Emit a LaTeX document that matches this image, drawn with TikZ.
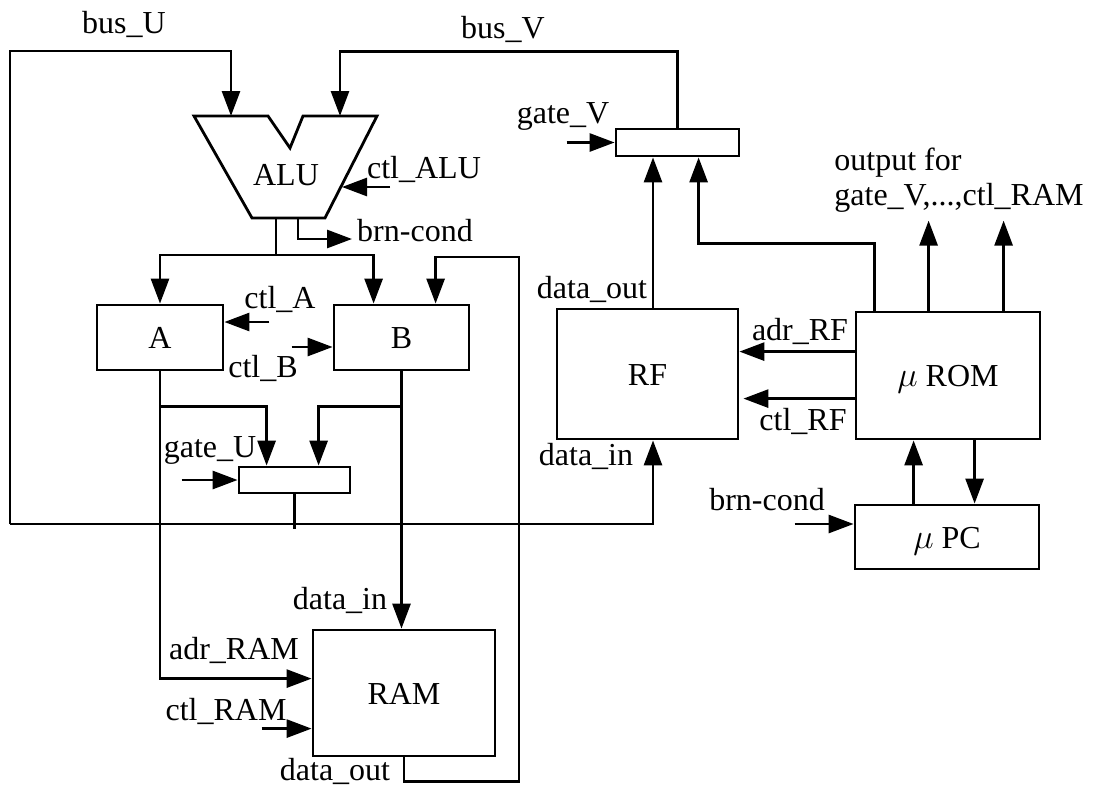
\documentclass[tikz,border=0pt]{standalone}
\usepackage{fontspec}
\setmainfont{Liberation Serif}
\usetikzlibrary{arrows.meta}
\usetikzlibrary{calc}
\usetikzlibrary{positioning}

\begin{document}
\begin{tikzpicture}[x=0.5pt,y=-0.5pt,every node/.style={font=\fontsize{16}{17.5}\selectfont}]
  \tikzset{>={Triangle[length=12.5pt,width=9pt]}} % filled triangle heads
  \tikzstyle{wire}=[line width=1.4pt]
  \tikzstyle{block}=[draw,line width=1.4pt,inner sep=0pt,text height=11pt,text depth=0pt]
  \tikzstyle{lbl}=[anchor=base,inner sep=0pt]

  \useasboundingbox (0,0) rectangle (1097,787);

  % Blocks
  \node[block,minimum width=63pt,minimum height=32.5pt] (A) at (160,337.5) {A};
  \node[block,minimum width=67.5pt,minimum height=32.5pt] (B) at (401.5,337.5) {B};
  \node[block,minimum width=55.5pt,minimum height=13pt] (gateU) at (294.5,480) {};
  \node[block,minimum width=61.5pt,minimum height=13.5pt] (gateV) at (677.5,142.5) {};
  \node[block,minimum width=90.5pt,minimum height=65pt] (RF) at (647.5,374) {RF};
  \node[block,minimum width=92pt,minimum height=63.5pt] (ROM) at (948,375.5) {$\mu$ ROM};
  \node[block,minimum width=92pt,minimum height=32pt] (PC) at (947,537) {$\mu$ PC};
  \node[block,minimum width=91pt,minimum height=63pt] (RAM) at (404,693) {RAM};

  % ALU
  \draw[wire] (194,116) -- (268,116) -- (290,148) -- (303,116) -- (377,116)
    -- (325,218) -- (252,218) -- cycle;
  \node[lbl] (ALU) at (286,185) {ALU};
  \coordinate (aluU) at (231,116);
  \coordinate (aluV) at (340,116);
  \coordinate (aluOut) at (276,218);
  \coordinate (aluBrn) at (298,218);
  \coordinate (aluCtl) at (342,187);

  % Buses
  \coordinate (busUtop) at (10,51);
  \coordinate (busUbot) at (10,524);
  \draw[wire,->] (busUbot) -- (busUtop) -| (aluU);
  \draw[wire,->] (busUbot) -| ($(RF.south)+(5.5,0)$);
  \draw[wire] (gateU.south) -- ++(0,35);
  \draw[wire,->] (gateV.north) -- ++(0,-76) -| (aluV);

  % ALU outputs
  \coordinate (split) at (276,255);
  \draw[wire] (aluOut) -- (split);
  \draw[wire,->] (split) -| (A.north);
  \draw[wire,->] (split) -| ($(B.north west)+(41,0)$);
  \draw[wire,->] (aluBrn) -- ++(0,21) -- ++(54,0);

  % RAM loop back to B
  \draw[wire,->] (RAM.south) -- ++(0,24) -| (519,257) -| ($(B.north west)+(103,0)$);

  % A and B outputs
  \draw[wire,->] (A.south) |- ($(RAM.north west)+(0,50)$);
  \draw[wire,->] (B.south) -- (B.south |- RAM.north);
  \draw[wire,->] ($(A.south)+(0,35)$) -| ($(gateU.north west)+(29,0)$);
  \draw[wire,->] ($(B.south)+(0,35)$) -| ($(gateU.north west)+(81,0)$);

  % Control inputs
  \draw[wire,->] ($(gateU.west)+(-56,0)$) -- (gateU.west);
  \draw[wire,->] ($(gateV.west)+(-48,0)$) -- (gateV.west);
  \draw[wire,->] ($(A.east)+(45,-15.5)$) -- ($(A.east)+(0,-15.5)$);
  \draw[wire,->] ($(B.west)+(-41,9.5)$) -- ($(B.west)+(0,9.5)$);
  \draw[wire,->] (390,187) -- (aluCtl);
  \draw[wire,->] ($(RAM.north west)+(-50,100)$) -- ($(RAM.north west)+(0,100)$);

  % RF, uROM and uPC
  \coordinate (rfOut) at ($(RF.north)+(5.5,0)$);
  \draw[wire,->] (rfOut) -- (rfOut |- gateV.south);
  \draw[wire,->] ($(ROM.north west)+(20,0)$) -- ++(0,-67) -| ($(gateV.south west)+(84,0)$);
  \draw[wire,->] ($(ROM.north west)+(74,0)$) -- ++(0,-90);
  \draw[wire,->] ($(ROM.north west)+(149,0)$) -- ++(0,-90);
  \draw[wire,->] ($(ROM.north west)+(0,41)$) -- ($(RF.north east)+(0,44)$);
  \draw[wire,->] ($(ROM.north west)+(0,88)$) -- ($(RF.north east)+(4,91)$);
  \coordinate (pcUp) at ($(PC.north west)+(60,0)$);
  \coordinate (romDown) at ($(ROM.south west)+(120,0)$);
  \draw[wire,->] (pcUp) -- (pcUp |- ROM.south);
  \draw[wire,->] (romDown) -- (romDown |- PC.north);
  \draw[wire,->] ($(PC.west)+(-59,-13)$) -- ($(PC.west)+(0,-13)$);

  % Labels
  \node[lbl] (lbusU) at (124,33) {bus\_U};
  \node[lbl] (lbusV) at (503,38) {bus\_V};
  \node[lbl] (lgateV) at (563,123) {gate\_V};
  \node[lbl] (lctlALU) at (424,178) {ctl\_ALU};
  \node[lbl] (lbrnA) at (415,241) {brn-cond};
  \node[lbl] (lctlA) at (280,308) {ctl\_A};
  \node[lbl] (lctlB) at (263,377) {ctl\_B};
  \node[lbl] (lgateU) at (210,457) {gate\_U};
  \node[lbl] (ldinRAM) at (340,609) {data\_in};
  \node[lbl] (ladrRAM) at (234,659) {adr\_RAM};
  \node[lbl] (lctlRAM) at (226,720) {ctl\_RAM};
  \node[lbl] (ldoutRAM) at (335,780) {data\_out};
  \node[lbl] (ldoutRF) at (592,298) {data\_out};
  \node[lbl] (ldinRF) at (586,465) {data\_in};
  \node[lbl] (ladrRF) at (800,340) {adr\_RF};
  \node[lbl] (lctlRF) at (803,430) {ctl\_RF};
  \node[lbl] (lbrnPC) at (767,510) {brn-cond};
  \node[anchor=north west,inner sep=0pt,align=left] (lout) at (834,148)
    {output for\\gate\_V,...,ctl\_RAM};

\end{tikzpicture}
\end{document}
